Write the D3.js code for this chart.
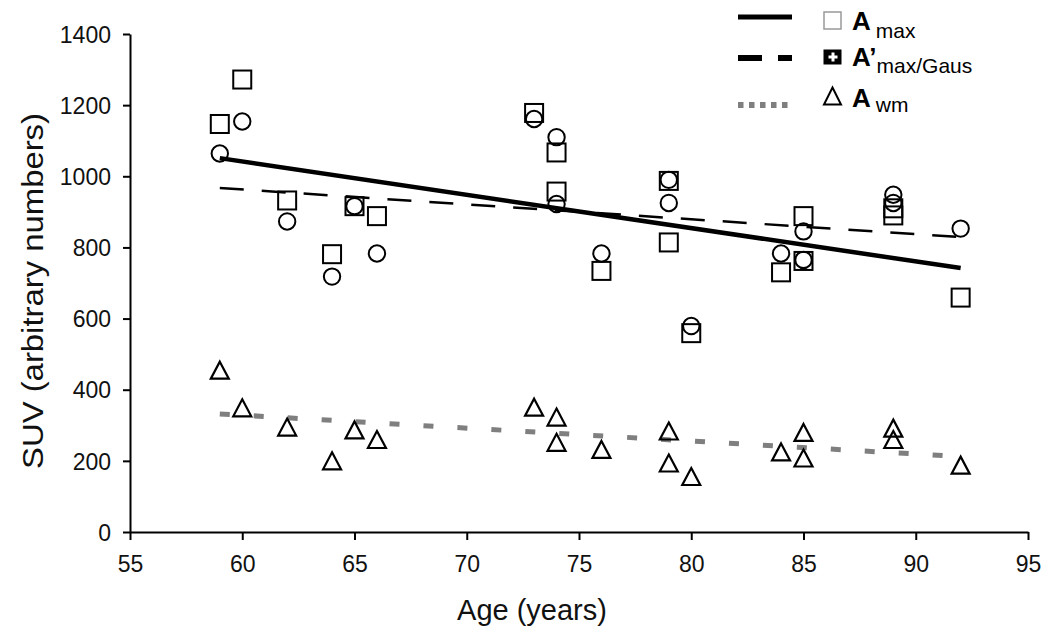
<!DOCTYPE html>
<html>
<head>
<meta charset="utf-8">
<script src="https://cdn.jsdelivr.net/npm/d3@7"></script>
<style>
  html, body { margin: 0; padding: 0; background: #fff; }
  svg { display: block; font-family: "Liberation Sans", Arial, Helvetica, sans-serif; }
</style>
</head>
<body>
<svg id="chart" width="1050" height="636"></svg>
<script>
// ---- Data ----
const ageTicks = [55, 60, 65, 70, 75, 80, 85, 90, 95];
const suvTicks = [0, 200, 400, 600, 800, 1000, 1200, 1400];

const ages       = [59, 60, 62, 64, 65, 66, 73, 74, 74, 76, 79, 79, 80, 84, 85, 85, 89, 89, 92];
const aMax       = [1147, 1272, 932, 781, 916, 888, 1178, 1067, 957, 734, 987, 814, 559, 730, 888, 762, 910, 890, 659];
const aMaxGaus   = [1064, 1154, 873, 718, 916, 783, 1161, 1110, 922, 783, 990, 925, 579, 783, 845, 765, 948, 925, 853];
const aWm        = [455, 349, 295, 200, 287, 260, 351, 323, 252, 232, 284, 194, 156, 225, 280, 208, 292, 260, 188];

const trendAges  = [59, 92];
const trendAmax  = [1051, 742];
const trendGaus  = [967, 829];
const trendWm    = [332, 212];

// ---- Layout ----
const svg = d3.select("#chart");
const x = d3.scaleLinear().domain([55, 95]).range([130, 1028]);
const y = d3.scaleLinear().domain([0, 1400]).range([532, 34]);

// Axes
const xAxis = d3.axisBottom(x).tickValues(ageTicks).tickFormat(d3.format("d"))
  .tickSize(8).tickSizeOuter(0).tickPadding(16);
const yAxis = d3.axisLeft(y).tickValues(suvTicks).tickFormat(d3.format("d"))
  .tickSize(7).tickSizeOuter(0).tickPadding(12);

const gx = svg.append("g").attr("transform", `translate(0,${y(0)})`).call(xAxis);
const gy = svg.append("g").attr("transform", `translate(${x(55)},0)`).call(yAxis);
[gx, gy].forEach(g => {
  g.select(".domain").attr("stroke", "#000").attr("stroke-width", 2);
  g.selectAll(".tick line").attr("stroke", "#000").attr("stroke-width", 2);
  g.selectAll(".tick text").attr("fill", "#111").style("font-size", "23px")
    .style("font-family", '"Liberation Sans", Arial, sans-serif');
});
gy.selectAll(".tick text").attr("dy", "0.36em");

// Axis titles
svg.append("text")
  .attr("x", 532).attr("y", 620)
  .attr("text-anchor", "middle")
  .style("font-size", "29px").attr("fill", "#111")
  .text("Age (years)");

svg.append("text")
  .attr("transform", "translate(43,291) rotate(-90)")
  .attr("text-anchor", "middle")
  .attr("textLength", 356).attr("lengthAdjust", "spacingAndGlyphs")
  .style("font-size", "29px").attr("fill", "#111")
  .text("SUV (arbitrary numbers)");

// Trend lines
const line = d3.line().x(d => x(d[0])).y(d => y(d[1]));
const zip = (a, b) => a.map((v, i) => [v, b[i]]);

svg.append("path").datum(zip(trendAges, trendWm)).attr("d", line)
  .attr("fill", "none").attr("stroke", "#7f7f7f").attr("stroke-width", 5)
  .attr("stroke-dasharray", "10 24");
svg.append("path").datum(zip(trendAges, trendGaus)).attr("d", line)
  .attr("fill", "none").attr("stroke", "#000").attr("stroke-width", 2.5)
  .attr("stroke-dasharray", "24 18");
svg.append("path").datum(zip(trendAges, trendAmax)).attr("d", line)
  .attr("fill", "none").attr("stroke", "#000").attr("stroke-width", 4.5);

// Markers
const sq = 18;
svg.append("g").selectAll("rect").data(zip(ages, aMax)).join("rect")
  .attr("x", d => x(d[0]) - sq / 2).attr("y", d => y(d[1]) - sq / 2)
  .attr("width", sq).attr("height", sq)
  .attr("fill", "none").attr("stroke", "#000").attr("stroke-width", 2);

svg.append("g").selectAll("circle").data(zip(ages, aMaxGaus)).join("circle")
  .attr("cx", d => x(d[0])).attr("cy", d => y(d[1])).attr("r", 8.2)
  .attr("fill", "none").attr("stroke", "#000").attr("stroke-width", 2);

const tri = (cx, cy, w, h) => `M${cx},${cy - h / 2}L${cx + w / 2},${cy + h / 2}L${cx - w / 2},${cy + h / 2}Z`;
svg.append("g").selectAll("path").data(zip(ages, aWm)).join("path")
  .attr("d", d => tri(x(d[0]), y(d[1]), 18, 17))
  .attr("fill", "none").attr("stroke", "#000").attr("stroke-width", 2.2)
  .attr("stroke-linejoin", "miter");

// Legend
const lg = svg.append("g");
lg.append("line").attr("x1", 738).attr("x2", 792).attr("y1", 17).attr("y2", 17)
  .attr("stroke", "#000").attr("stroke-width", 5);
lg.append("line").attr("x1", 738).attr("x2", 792).attr("y1", 58).attr("y2", 58)
  .attr("stroke", "#000").attr("stroke-width", 6).attr("stroke-dasharray", "24 16");
lg.append("line").attr("x1", 738).attr("x2", 793).attr("y1", 105).attr("y2", 105)
  .attr("stroke", "#7f7f7f").attr("stroke-width", 6).attr("stroke-dasharray", "5.5 5.5");

// symbols
lg.append("rect").attr("x", 824).attr("y", 12).attr("width", 17).attr("height", 17)
  .attr("fill", "#fff").attr("stroke", "#999").attr("stroke-width", 1.5);
lg.append("rect").attr("x", 823.5).attr("y", 49.5).attr("width", 18).attr("height", 15)
  .attr("fill", "#000");
lg.append("path").attr("d", "M828.5,57H837.5M833,52.5V61.5")
  .attr("stroke", "#fff").attr("stroke-width", 3);
lg.append("path").attr("d", tri(832.5, 96, 17, 17))
  .attr("fill", "none").attr("stroke", "#000").attr("stroke-width", 2);

// labels
const addLabel = (ty, sub, subDy, subDx, prime) => {
  const t = lg.append("text").attr("x", 852).attr("y", ty).attr("fill", "#000");
  t.append("tspan").style("font-size", "26px").style("font-weight", "bold").text(prime ? "A\u2019" : "A");
  t.append("tspan").style("font-size", "21px").attr("dx", subDx).attr("dy", subDy).text(sub);
};
addLabel(30, "max", 8, 5, false);
addLabel(66, "max/Gaus", 7, 0, true);
addLabel(107, "wm", 5, 5, false);
</script>
</body>
</html>
